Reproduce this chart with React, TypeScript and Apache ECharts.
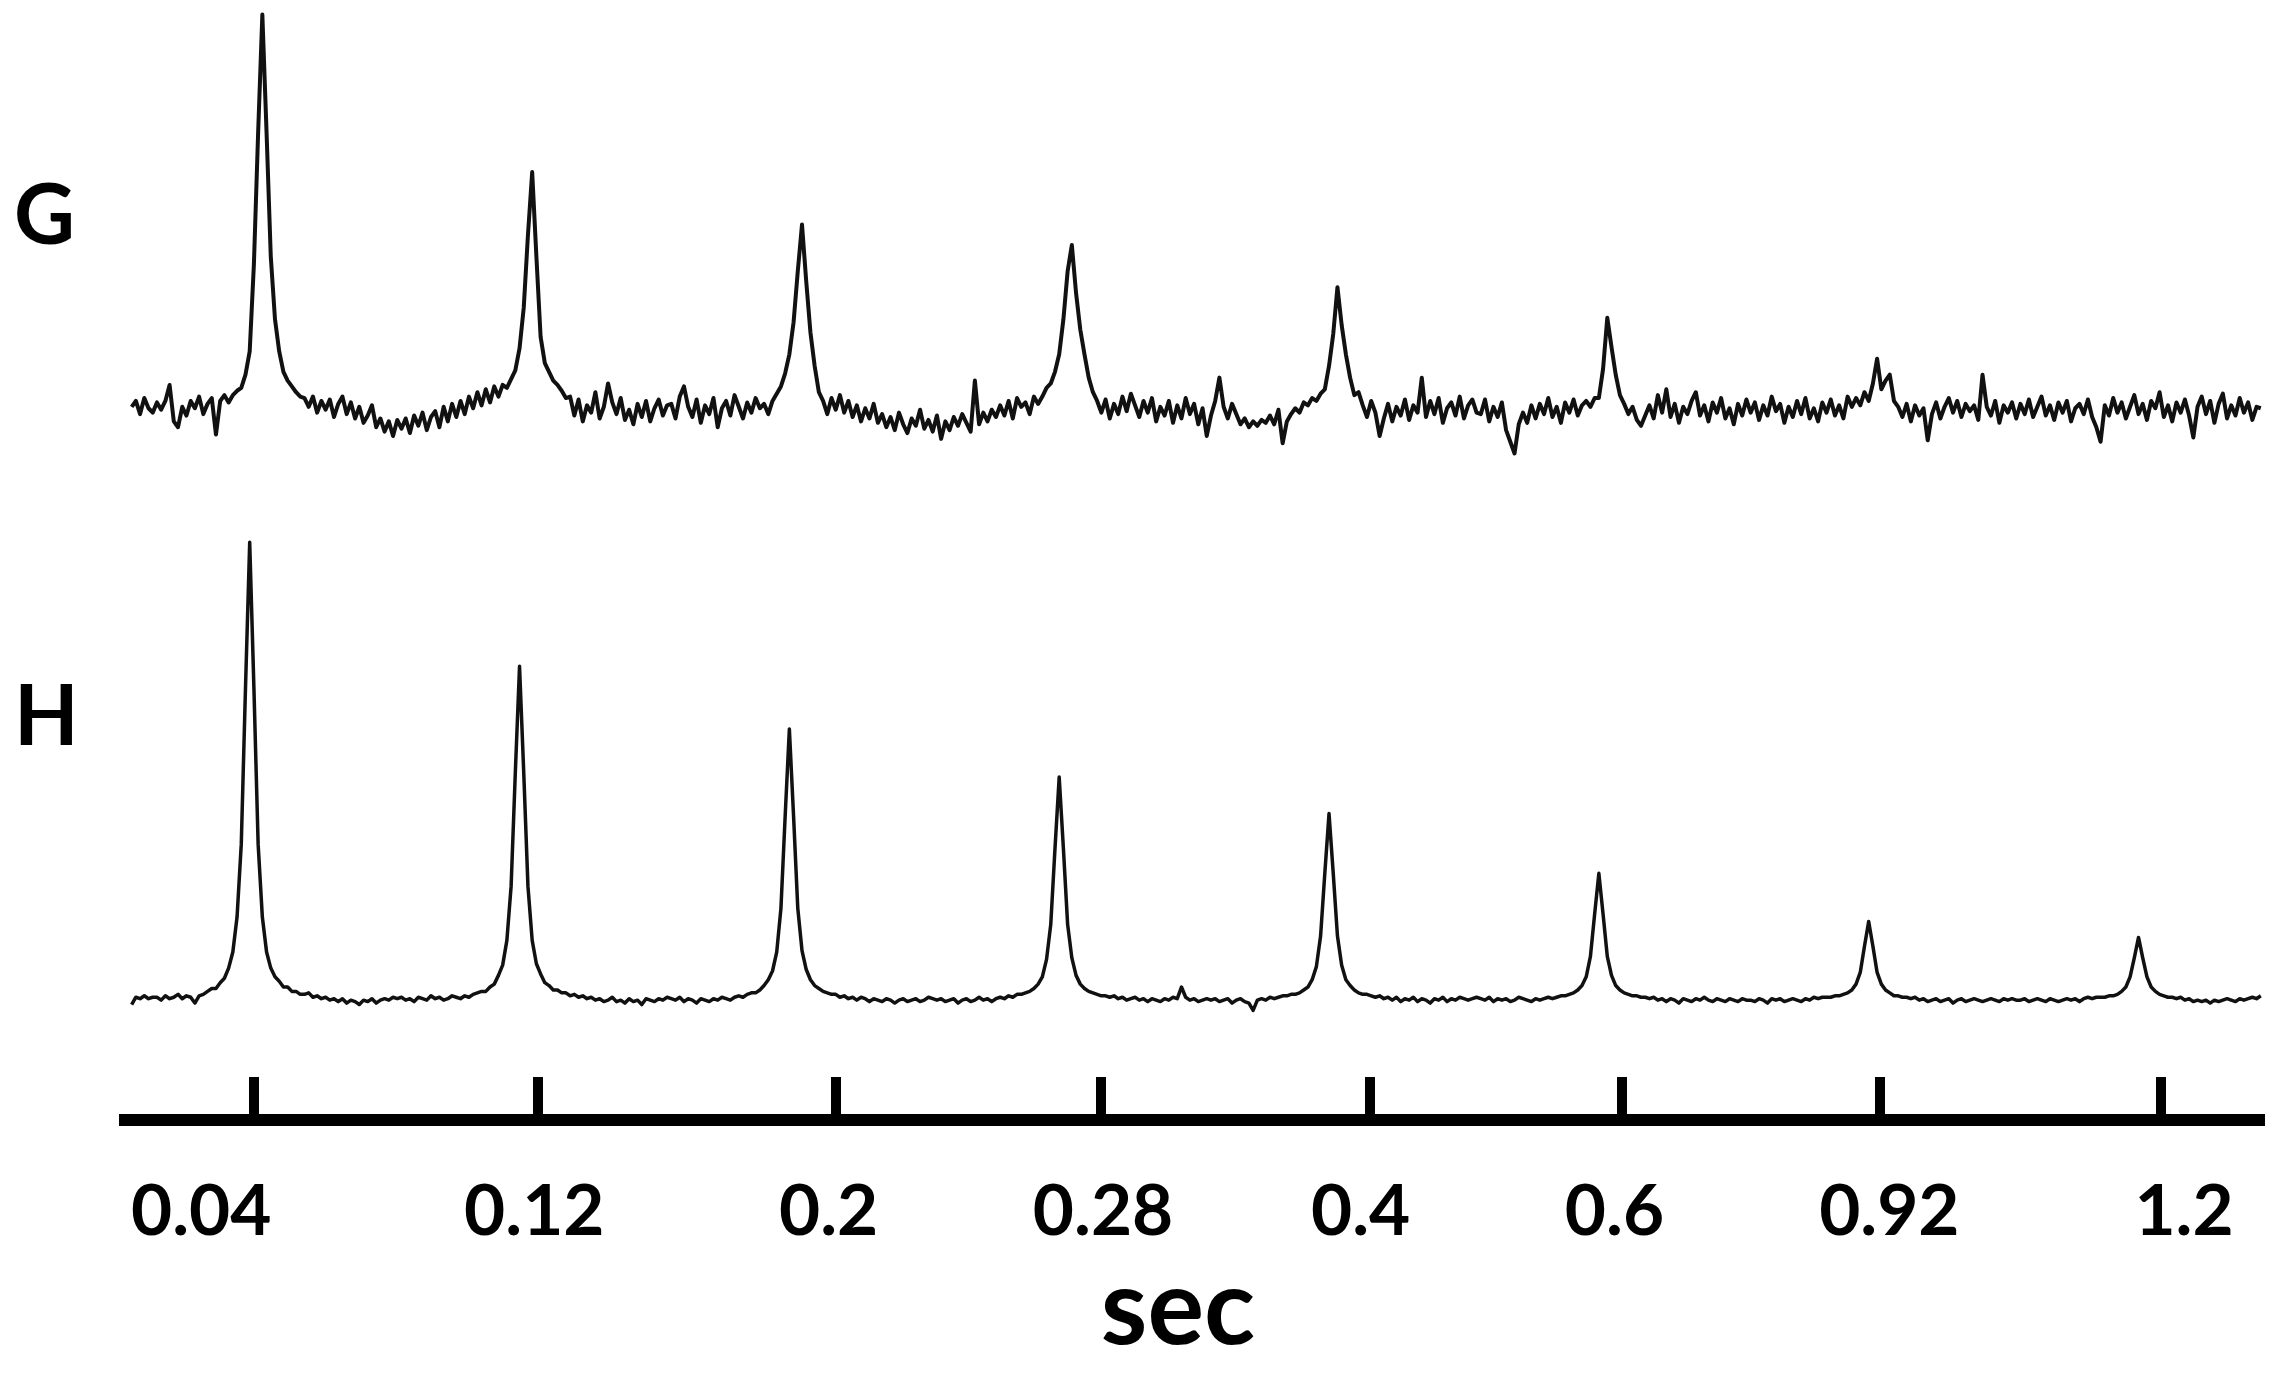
import React, { useEffect, useRef } from 'react';
import * as echarts from 'echarts';

// Spectrum G: one array per delay (64 points each, intensity in arbitrary units, baseline = 0)
const G_SPEC_1 = [2, 6, -3, 8, 1, -2, 5, 0, 6, 17, -8, -12, 2, -4, 6, 1, 9, -3, 4, 8, -17, 6, 10, 5,
  10, 13, 15, 24, 40, 100, 190, 271, 190, 105, 62, 40, 26, 20, 16, 12, 9,
  8, 2, 9, -2, 6, 0, 7, -5, 4, 9, -3, 5, -6, 2, -9, -4, 3, -12, -6, -15, -8, -18, -7];
const G_SPEC_2 = [-13, -6, -16, -4, -11, -2, -14, -5, -1, -12, 2, -8, 4, -5, 6, -3, 9, 1, 12, 3, 14, 5, 16, 9,
  17, 15, 21, 27, 42, 70, 120, 163, 105, 50, 32, 26, 20, 17, 13, 8, 9,
  -4, 7, -8, 3, -2, 12, -6, 2, 18, 5, -3, 8, -7, 0, -10, 4, -5, 6, -8, 1, 7, -4, 3];
const G_SPEC_3 = [4, -6, 9, 16, 2, -5, 7, -9, 3, -3, 8, -12, 1, 6, -4, 10, 2, -6, 5, -2, 8, 1, 4, -3,
  6, 11, 16, 25, 38, 60, 95, 127, 88, 53, 30, 12, 6, -3, 8, 0, 10,
  -2, 6, -5, 3, -8, 1, -6, 4, -9, -3, -12, -5, -14, -2, -10, -16, -6, -11, 0, -13, -7, -15, -4];
const G_SPEC_4 = [-20, -8, -14, -5, -11, -3, -9, -15, 20, -10, -2, -8, 0, -5, 3, -4, 6, -6, 8, 2, 5, -3, 9, 4, 9, 15,
  18, 26, 38, 62, 95, 113, 80, 55, 38, 22, 12, 6, -2,
  7, -6, 4, -3, 9, -1, 11, 3, -5, 6, -2, 8, -8, 2, -4, 6, -9, 3, -6, 8, -3, 4, -10, 1, -18];
const G_SPEC_5 = [-4, 6, 22, 2, -6, 4, -3, -10, -6, -12, -8, -11, -7, -9, -4, -10, 0, -23, -8, -3, 1, -2, 5, 3, 8, 6, 11, 14,
  30, 52, 84, 58, 38, 22, 10, 12, 3,
  -5, 6, -2, -18, -6, 4, -8, 2, -4, 7, -7, 3, -2, 22, -5, 6, -3, 8, -9, 1, 5, -4, 9, -6, 3, 7, -2];
const G_SPEC_6 = [-3, 7, -8, 2, -5, 5, -14, -22, -30, -10, -2, -9, 3, -6, 4, -3, 8, -5, 2, -9, 5, -2, 7, -4, 3, 6, 2, 8,
  8, 28, 63, 43, 24, 10, 4, -3,
  2, -7, -11, -4, 3, -6, 10, -2, 14, -5, 4, -9, 2, -3, 6, 12, -4, 3, -8, 5, -2, 8, -6, 1, -10, 4, -4, 7];
const G_SPEC_7 = [-2, 5, -7, 3, -4, 9, -1, 4, -9, 2, -5, 6, -3, 8, -6, 1, -8, 5, -2, 7, -4, 3, -6, 9,
  2, 8, 3, 12, 6, 18, 35, 14, 20, 24, 6, 2,
  -5, 4, -8, 3, -4, 1, -21, -3, 5, -6, 2, 8, -2, 6, -5, 4, -1, 3, -7, 24, 2, -4, 6, -9, 3, -2, 5, -6];
const G_SPEC_8 = [4, -3, 7, -5, 2, 9, -4, 3, -7, 5, -2, 6, -8, 1, 4, -3, 7, -5, -12, -22,
  3, -4, 8, -2, 5, -6, 2, 10, -3, 4, -7, 6, 1, 12, -5, 3, -8, 5, -2, 7,
  -4, -19, 2, 9, -3, 6, -9, 4, 11, -6, 3, -4, 8, -2, 5, -7, 2, 1];

// Spectrum H
const H_SPEC_1 = [-3, 2, 1, 3, 1, 2, 2, 0, 3, 1, 2, 4, 1, 3, 2, -2, 3, 4,
  6, 8, 8, 12, 15, 22, 33, 57, 107, 214, 314, 214, 107, 57, 33, 22, 16, 13, 9, 9, 6,
  6, 4, 4, 5, 2, 3, 1, 2, 0, 1, -1, 1, -2, 0, -1, -3, 0, -1, 1, -2, 0, 1, 0, 2, 1];
const H_SPEC_2 = [2, 0, 1, -1, 2, 1, 0, 3, 1, 2, 0, 1, 3, 2, 1, 3, 2, 4,
  5, 6, 6, 9, 11, 17, 24, 41, 78, 156, 229, 156, 78, 41, 25, 18, 12, 10, 7, 7, 5,
  5, 3, 4, 2, 3, 1, 2, 0, 1, -1, 0, 2, -1, 0, -2, 1, -1, 0, -3, 1, 0, -1, 1, 0, 2];
const H_SPEC_3 = [1, 0, 2, -1, 1, 0, -2, 1, 0, -1, 1, 0, 2, 1, 0, 2, 3, 2,
  4, 5, 5, 7, 10, 14, 20, 33, 63, 126, 186, 126, 63, 34, 21, 14, 10, 8, 6, 5, 4,
  4, 2, 3, 1, 2, 0, 2, 1, -1, 1, 0, -1, 1, 0, -2, 0, 1, -1, 0, 1, -1, 0, 2, 1, 0];
const H_SPEC_4 = [1, -1, 0, 1, -2, 0, 1, -1, 0, 2, 0, 1, -1, 1, 2, 1, 3, 2,
  4, 4, 5, 6, 8, 11, 16, 28, 52, 104, 153, 104, 52, 29, 17, 11, 8, 6, 5, 4, 3,
  3, 2, 3, 1, 2, 0, 1, 2, 0, 1, -1, 1, 0, -1, 1, 0, 2, 1, 9, 2, 0, 1, -1, 0, 1];
const H_SPEC_5 = [0, 1, -1, 0, 1, -2, 0, 1, -1, -2, -7, 0, 1, 0, 2, 1, 2, 3,
  3, 4, 4, 5, 7, 9, 14, 23, 44, 87, 128, 87, 44, 24, 14, 10, 7, 5, 4, 4, 3,
  2, 3, 1, 2, 0, 2, -1, 1, 0, 2, -1, 1, 0, -2, 1, 0, 2, -1, 1, 0, 2, 1, 0, 1, 2];
const H_SPEC_6 = [1, 0, 2, -1, 1, 0, 1, -1, 0, 2, 1, 0, -1, 1, 0, 1, 2, 1,
  2, 3, 3, 4, 5, 7, 10, 16, 30, 59, 87, 59, 30, 17, 10, 7, 5, 4, 3, 3, 2,
  2, 1, 2, 0, 1, -1, 1, 0, -2, 1, 0, -1, 1, 0, 2, 0, -1, 1, 0, -1, 1, 0, -1, 1, 0];
const H_SPEC_7 = [0, -1, 1, 0, -2, 1, 0, 1, -1, 0, 1, 0, -1, 1, 0, 2, 1, 2,
  2, 2, 3, 3, 4, 5, 7, 11, 19, 37, 54, 37, 19, 11, 7, 5, 3, 3, 2, 2, 1,
  2, 0, 1, -1, 0, 1, -1, 0, 1, -2, 0, 1, -1, 0, 1, 0, -1, 0, 1, 0, -1, 1, 0, 1, 0];
const H_SPEC_8 = [0, 1, -1, 0, 1, 0, -1, 1, 0, -1, 0, 1, 0, 1, -1, 1, 2, 1,
  2, 2, 2, 3, 3, 4, 6, 9, 16, 29, 43, 29, 16, 9, 6, 4, 3, 2, 2, 1, 2,
  0, 1, -1, 0, -1, 0, -2, 0, -1, 0, 1, 0, -1, 1, 0, 1, 2, 1, 3];

// Axis: tick positions and label anchor positions (in spectrum point units), and their labels
const TICK_POS = [28.9, 96.4, 166.9, 229.9, 293.6, 353.5, 414.6, 481.2];
const LABEL_POS = [16.5, 95.5, 165.3, 230.4, 291.5, 351.7, 416.9, 486.8];
const TICK_LABELS = ['0.04', '0.12', '0.2', '0.28', '0.4', '0.6', '0.92', '1.2'];
const X_NAME = 'sec';
const TRACE_NAMES = ['G', 'H'];

const G_TRACE = [G_SPEC_1, G_SPEC_2, G_SPEC_3, G_SPEC_4, G_SPEC_5, G_SPEC_6, G_SPEC_7, G_SPEC_8];
const H_TRACE = [H_SPEC_1, H_SPEC_2, H_SPEC_3, H_SPEC_4, H_SPEC_5, H_SPEC_6, H_SPEC_7, H_SPEC_8];

const FONT = 'Lato, "Open Sans", "Noto Sans", sans-serif';

export default function App() {
  const ref = useRef<HTMLDivElement>(null);

  useEffect(() => {
    if (!ref.current) return;
    const chart = echarts.init(ref.current, null, { renderer: 'svg' });
    const toPoints = (segs: number[][]) => ([] as number[]).concat(...segs).map((v, i) => [i, v]);
    const nearestLabel = (v: number) => {
      let best = -1;
      let bd = Infinity;
      LABEL_POS.forEach((p, i) => {
        const d = Math.abs(p - v);
        if (d < bd) { bd = d; best = i; }
      });
      return bd < 0.5 ? TICK_LABELS[best] : '';
    };

    chart.setOption({
      animation: false,
      backgroundColor: '#ffffff',
      grid: [
        { left: 119, width: 2146, top: 0, height: 480 },
        { left: 119, width: 2146, top: 496, height: 624 },
      ],
      xAxis: [
        { gridIndex: 0, type: 'value', min: -3, max: 506, show: false },
        {
          gridIndex: 1,
          type: 'value',
          min: -3,
          max: 506,
          axisLine: { show: true, onZero: false, lineStyle: { color: '#000', width: 12, cap: 'butt' } },
          axisTick: { show: true, inside: true, length: 43, customValues: TICK_POS, lineStyle: { color: '#000', width: 10 } },
          axisLabel: {
            show: true,
            customValues: LABEL_POS,
            formatter: (v: number) => nearestLabel(v),
            fontFamily: FONT,
            fontWeight: 'bold',
            fontSize: 71,
            color: '#000',
            margin: 52,
            hideOverlap: false,
          },
          splitLine: { show: false },
          name: X_NAME,
          nameLocation: 'middle',
          nameGap: 130,
          nameTextStyle: {
            fontFamily: FONT,
            fontWeight: 'bold',
            fontSize: 106,
            color: '#000',
            padding: [0, 28, 0, 0],
          },
        },
      ],
      yAxis: [
        { gridIndex: 0, type: 'value', min: -48.2, max: 281, show: false },
        { gridIndex: 1, type: 'value', min: -82.2, max: 345.8, show: false },
      ],
      series: [
        {
          name: TRACE_NAMES[0],
          type: 'line',
          xAxisIndex: 0,
          yAxisIndex: 0,
          data: toPoints(G_TRACE),
          showSymbol: false,
          symbol: 'none',
          lineStyle: { color: '#111', width: 4, join: 'round' },
          silent: true,
        },
        {
          name: TRACE_NAMES[1],
          type: 'line',
          xAxisIndex: 1,
          yAxisIndex: 1,
          data: toPoints(H_TRACE),
          showSymbol: false,
          symbol: 'none',
          lineStyle: { color: '#111', width: 3.5, join: 'round' },
          silent: true,
        },
      ],
      graphic: [
        {
          type: 'text',
          left: 14,
          top: 169,
          style: { text: TRACE_NAMES[0], fontFamily: FONT, fontWeight: 'bold', fontSize: 84, fill: '#000' },
        },
        {
          type: 'text',
          left: 14,
          top: 670,
          style: { text: TRACE_NAMES[1], fontFamily: FONT, fontWeight: 'bold', fontSize: 84, fill: '#000' },
        },
      ],
    });

    return () => chart.dispose();
  }, []);

  return (
    <div
      ref={ref}
      style={{ position: 'fixed', left: 0, top: 0, width: 2286, height: 1375, background: '#fff' }}
    />
  );
}
